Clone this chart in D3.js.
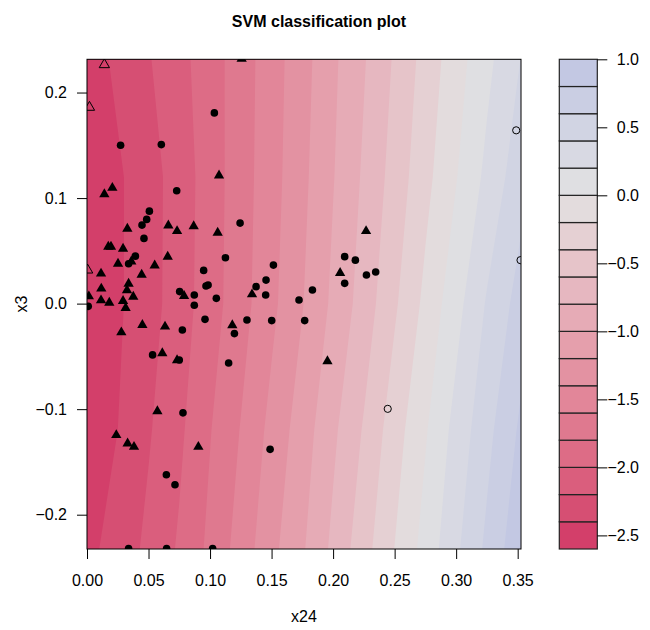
<!DOCTYPE html>
<html>
<head>
<meta charset="utf-8">
<script src="https://cdn.jsdelivr.net/npm/d3@7"></script>
<style>
  body { margin: 0; background: #fff; }
  text { font-family: "Liberation Sans", Arial, Helvetica, sans-serif; }
</style>
</head>
<body>
<div id="chart"></div>
<script>
// contour levels of the decision value, and the key's tick labels
const levels = [-2.6, -2.4, -2.2, -2.0, -1.8, -1.6, -1.4, -1.2, -1.0, -0.8,
                -0.6, -0.4, -0.2, 0.0, 0.2, 0.4, 0.6, 0.8, 1.0];
const keyTicks = [-2.5, -2.0, -1.5, -1.0, -0.5, 0.0, 0.5, 1.0];
const xTicks = [0, 0.05, 0.10, 0.15, 0.20, 0.25, 0.30, 0.35];
const yTicks = [-0.2, -0.1, 0.0, 0.1, 0.2];

// decision values on a coarse grid (x24 columns, x3 rows)
const gridX24 = [0, 0.025, 0.05, 0.075, 0.1, 0.125, 0.15, 0.175, 0.2,
                 0.225, 0.25, 0.275, 0.3, 0.325, 0.35, 0.375];
const gridX3 = [0.24, 0.12, 0.0, -0.12, -0.24];
const decisionValues = [
  [-2.50, -2.35, -2.21, -2.06, -1.89, -1.70, -1.49, -1.28, -1.04, -0.82, -0.58, -0.33, -0.09, 0.14, 0.37, 0.60],
  [-2.57, -2.43, -2.28, -2.11, -1.90, -1.69, -1.48, -1.25, -1.01, -0.77, -0.52, -0.26, -0.01, 0.25, 0.50, 0.75],
  [-2.58, -2.43, -2.28, -2.10, -1.89, -1.68, -1.45, -1.21, -0.96, -0.71, -0.43, -0.15, 0.13, 0.42, 0.66, 0.95],
  [-2.56, -2.40, -2.22, -2.04, -1.81, -1.59, -1.34, -1.10, -0.84, -0.58, -0.29, -0.02, 0.27, 0.54, 0.81, 1.08],
  [-2.45, -2.31, -2.15, -1.97, -1.75, -1.51, -1.25, -1.02, -0.75, -0.47, -0.19, 0.08, 0.37, 0.65, 0.93, 1.20]
];

// observations [x24, x3]
const svCircles = [
  [0.1035, 0.1807], [0.0273, 0.150], [0.0604, 0.1507], [0.0729, 0.1069], [0.0507, 0.0876],
  [0.0485, 0.0798], [0.0447, 0.0744], [0.0463, 0.0618], [0.1244, 0.0763], [0.0393, 0.045],
  [0.0338, 0.0378], [0.1125, 0.0435], [0.0948, 0.0315], [0.1515, 0.0365], [0.001, -0.0026],
  [0.0533, -0.0486], [0.075, -0.0534], [0.0775, -0.025], [0.0753, 0.0114], [0.0872, 0.0081],
  [0.0872, -0.0016], [0.0959, -0.0149], [0.0967, 0.0167], [0.0984, 0.0176], [0.1051, 0.005],
  [0.1374, 0.0161], [0.1455, 0.0223], [0.1452, 0.0081], [0.130, -0.0155], [0.1198, -0.0284],
  [0.1501, -0.0161], [0.1151, -0.0562], [0.2094, 0.0445], [0.2181, 0.0412], [0.2094, 0.0192],
  [0.2271, 0.0271], [0.2346, 0.0299], [0.1832, 0.0129], [0.1723, 0.0034], [0.1769, -0.0161],
  [0.078, -0.1035], [0.1488, -0.1381], [0.0645, -0.1622], [0.0715, -0.1716], [0.0338, -0.232],
  [0.0647, -0.232], [0.1021, -0.232]
];
const svTriangles = [
  [0.1257, 0.232], [0.1073, 0.1214], [0.0206, 0.1097], [0.0141, 0.1037], [0.0328, 0.0710],
  [0.0661, 0.0741], [0.0732, 0.0687], [0.0867, 0.0734], [0.1062, 0.0672], [0.0173, 0.0539],
  [0.0195, 0.0539], [0.0293, 0.052], [0.036, 0.040], [0.0252, 0.0378], [0.0656, 0.0445],
  [0.055, 0.0362], [0.0444, 0.0274], [0.0114, 0.0284], [0.0338, 0.0189], [0.0116, 0.0142],
  [0.0325, 0.0126], [0.0376, 0.0066], [0.0114, 0.0031], [0.0181, 0.0009], [0.0293, 0.0025],
  [0.0314, -0.0042], [0.0015, 0.0069], [0.045, -0.0202], [0.0279, -0.0272], [0.0634, -0.0218],
  [0.0612, -0.047], [0.0732, -0.0536], [0.0789, 0.0072], [0.1341, 0.0088], [0.1181, -0.0205],
  [0.2057, 0.029], [0.1954, -0.0546], [0.2268, 0.0687], [0.0572, -0.1019], [0.0238, -0.1246],
  [0.033, -0.1325], [0.0382, -0.1357], [0.0905, -0.1357]
];
const dataCircles = [[0.3488, 0.1642], [0.3523, 0.0412], [0.2444, -0.0997]];
const dataTriangles = [[0.0141, 0.2264], [0.002, 0.186], [0.0005, 0.0318]];

const W = 650, H = 630;
const plot = {left: 87, right: 521, top: 59.3, bottom: 549};
const key = {left: 559.3, right: 597.3};

// R's hcl(): polar LUV -> sRGB
function polarLuv(L, C, Hdeg) {
  const h = Hdeg * Math.PI / 180;
  const U = C * Math.cos(h), V = C * Math.sin(h);
  const Xn = 95.047, Yn = 100, Zn = 108.883;
  const den = Xn + 15 * Yn + 3 * Zn;
  const un = 4 * Xn / den, vn = 9 * Yn / den;
  const Y = L > 8 ? Yn * Math.pow((L + 16) / 116, 3) : Yn * L / 903.3;
  const u = U / (13 * L) + un, v = V / (13 * L) + vn;
  const X = 9 * Y * u / (4 * v);
  const Z = -X / 3 - 5 * Y + 3 * Y / v;
  const x = X / 100, y = Y / 100, z = Z / 100;
  const lin = [
    3.240479 * x - 1.53715 * y - 0.498535 * z,
    -0.969256 * x + 1.875992 * y + 0.041556 * z,
    0.055648 * x - 0.204043 * y + 1.057311 * z
  ];
  const g = lin.map(c => {
    c = c <= 0.0031308 ? 12.92 * c : 1.055 * Math.pow(c, 1 / 2.4) - 0.055;
    return Math.round(255 * Math.max(0, Math.min(1, c)));
  });
  return d3.rgb(g[0], g[1], g[2]).formatHex();
}
// diverging pink-grey-blue palette; the blue arm is stretched further
function bandColor(mid) {
  const t = mid < 0 ? Math.min(1, -mid / 2.5) : Math.min(1, mid / 4);
  return polarLuv(90 - 40 * t, 100 * t, mid < 0 ? 0 : 260);
}

const svg = d3.select("#chart").append("svg")
  .attr("width", W).attr("height", H);

const x = d3.scaleLinear().domain([0, 0.3527]).range([plot.left, plot.right]);
const y = d3.scaleLinear().domain([-0.2325, 0.2315]).range([plot.bottom, plot.top]);

svg.append("clipPath").attr("id", "plotclip")
  .append("rect")
  .attr("x", plot.left).attr("y", plot.top)
  .attr("width", plot.right - plot.left).attr("height", plot.bottom - plot.top);

// filled contours
const n = gridX24.length, m = gridX3.length;
const flat = [];
decisionValues.forEach(row => row.forEach(v => flat.push(v)));
const bandLevels = levels.slice(0, -1);
const contours = d3.contours().size([n, m]).thresholds(bandLevels)(flat);
const gx = d3.scaleLinear().domain([0.5, n - 0.5]).range([x(gridX24[0]), x(gridX24[n - 1])]);
const gy = d3.scaleLinear().domain([0.5, m - 0.5]).range([y(gridX3[0]), y(gridX3[m - 1])]);
const gridPath = d3.geoPath(d3.geoTransform({
  point: function (px, py) { this.stream.point(gx(px), gy(py)); }
}));

const field = svg.append("g").attr("clip-path", "url(#plotclip)");
field.append("rect")
  .attr("x", plot.left).attr("y", plot.top)
  .attr("width", plot.right - plot.left).attr("height", plot.bottom - plot.top)
  .attr("fill", bandColor(levels[0] + 0.1));
field.selectAll("path.band")
  .data(contours)
  .enter().append("path")
  .attr("class", "band")
  .attr("d", gridPath)
  .attr("fill", d => bandColor(d.value + 0.1));

// points
const pts = svg.append("g").attr("clip-path", "url(#plotclip)");
const tri = d3.symbol().type(d3.symbolTriangle).size(46);
pts.selectAll("circle.sv").data(svCircles).enter().append("circle")
  .attr("cx", d => x(d[0])).attr("cy", d => y(d[1])).attr("r", 3.8)
  .attr("fill", "#000");
pts.selectAll("path.svt").data(svTriangles).enter().append("path")
  .attr("d", tri)
  .attr("transform", d => `translate(${x(d[0])},${y(d[1])})`)
  .attr("fill", "#000");
pts.selectAll("circle.obs").data(dataCircles).enter().append("circle")
  .attr("cx", d => x(d[0])).attr("cy", d => y(d[1])).attr("r", 3.6)
  .attr("fill", "none").attr("stroke", "#000").attr("stroke-width", 1);
pts.selectAll("path.obst").data(dataTriangles).enter().append("path")
  .attr("d", tri)
  .attr("transform", d => `translate(${x(d[0])},${y(d[1])})`)
  .attr("fill", "none").attr("stroke", "#000").attr("stroke-width", 1);

// plot box
svg.append("rect")
  .attr("x", plot.left).attr("y", plot.top)
  .attr("width", plot.right - plot.left).attr("height", plot.bottom - plot.top)
  .attr("fill", "none").attr("stroke", "#000").attr("stroke-width", 1);

// axes
const minus = s => s.replace("-", "\u2212");
const xAxis = svg.append("g")
  .attr("transform", `translate(0,${plot.bottom})`)
  .call(d3.axisBottom(x).tickValues(xTicks).tickSize(10).tickPadding(16)
    .tickFormat(d3.format(".2f")));
const yAxis = svg.append("g")
  .attr("transform", `translate(${plot.left},0)`)
  .call(d3.axisLeft(y).tickValues(yTicks).tickSize(10).tickPadding(10)
    .tickFormat(d => minus(d3.format(".1f")(d))));
[xAxis, yAxis].forEach(a => {
  a.select(".domain").remove();
  a.selectAll("text").attr("font-size", 16).attr("fill", "#000")
    .attr("font-family", "Liberation Sans, Arial, sans-serif");
  a.selectAll("line").attr("stroke", "#000");
});

// colour key
const ky = d3.scaleLinear().domain([levels[0], levels[levels.length - 1]])
  .range([plot.bottom, plot.top]);
const keyG = svg.append("g");
keyG.selectAll("rect").data(bandLevels).enter().append("rect")
  .attr("x", key.left).attr("width", key.right - key.left)
  .attr("y", (d, i) => ky(levels[i + 1]))
  .attr("height", (d, i) => ky(levels[i]) - ky(levels[i + 1]))
  .attr("fill", d => bandColor(d + 0.1))
  .attr("stroke", "#222").attr("stroke-width", 1.2);
const keyAxis = svg.append("g")
  .attr("transform", `translate(${key.right},0)`)
  .call(d3.axisRight(ky).tickValues(keyTicks).tickSize(10).tickPadding(0)
    .tickFormat(d => minus(d3.format(".1f")(d))));
keyAxis.select(".domain").remove();
keyAxis.selectAll("line").attr("stroke", "#000");
keyAxis.selectAll("text").attr("font-size", 16).attr("fill", "#000")
  .attr("font-family", "Liberation Sans, Arial, sans-serif")
  .attr("text-anchor", "end").attr("x", 639 - key.right);

// titles
svg.append("text")
  .attr("x", 319).attr("y", 27)
  .attr("text-anchor", "middle").attr("font-size", 16).attr("font-weight", "bold")
  .text("SVM classification plot");
svg.append("text")
  .attr("x", (plot.left + plot.right) / 2).attr("y", 622)
  .attr("text-anchor", "middle").attr("font-size", 16)
  .text("x24");
svg.append("text")
  .attr("transform", `translate(27,${(plot.top + plot.bottom) / 2}) rotate(-90)`)
  .attr("text-anchor", "middle").attr("font-size", 16)
  .text("x3");
</script>
</body>
</html>
